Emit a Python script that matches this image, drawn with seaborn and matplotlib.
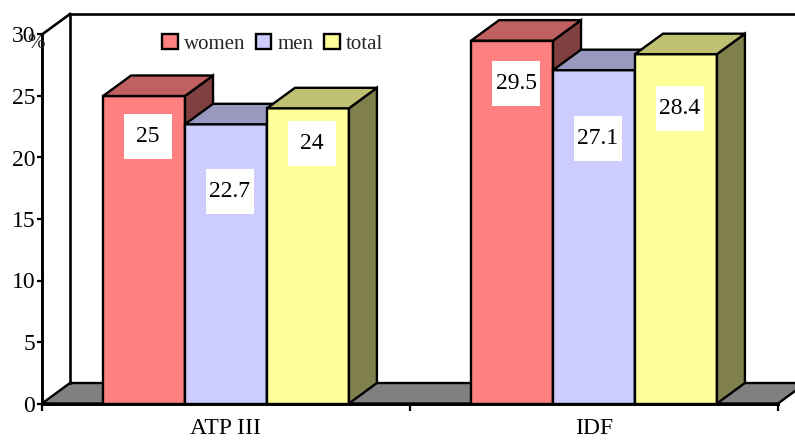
import numpy as np
import pandas as pd
import matplotlib
matplotlib.use("Agg")
import matplotlib.pyplot as plt
import matplotlib.transforms as mtransforms
from matplotlib.patches import Polygon, Rectangle, Patch
from matplotlib.lines import Line2D
import seaborn as sns

# Prevalence (%) by diagnostic criterion and group
criteria = ["ATP III", "IDF"]
groups = ["women", "men", "total"]
women = [25, 29.5]
men = [22.7, 27.1]
total = [24, 28.4]
y_ticks = [0, 5, 10, 15, 20, 25, 30]
y_tick_labels = ["0", "5", "10", "15", "20", "25", "30"]

front_colors = {"women": "#FF8080", "men": "#CCCCFF", "total": "#FFFF99"}
top_colors = {"women": "#C06060", "men": "#9999C0", "total": "#C0C073"}
side_colors = {"women": "#804040", "men": "#666680", "total": "#80804D"}

df = pd.DataFrame({
    "criterion": criteria * len(groups),
    "group": [g for g in groups for _ in criteria],
    "value": women + men + total,
})

sns.set_theme(style="white")
plt.rcParams["font.family"] = ["Liberation Serif", "DejaVu Serif"]

W, H = 795, 440
fig = plt.figure(figsize=(W / 100, H / 100), dpi=100)
fig.patch.set_facecolor("white")
# plot box in pixels measured from the top-left corner of the figure
left_px, right_px, bottom_px, top_px = 42, 778, 403.5, 34.5
ax = fig.add_axes([left_px / W, (H - bottom_px) / H,
                   (right_px - left_px) / W, (bottom_px - top_px) / H])
ax.set_facecolor("none")

LW = 1.7
sns.barplot(data=df, x="criterion", y="value", hue="group",
            order=criteria, hue_order=groups, palette=front_colors,
            saturation=1, width=0.668, edgecolor="black", linewidth=LW,
            legend=False, ax=ax)

ax.set_xlim(-0.5, 1.5)
ax.set_ylim(0, 30)

# pseudo-3D depth expressed in data units
px_x = (right_px - left_px) / 2.0
px_y = (bottom_px - top_px) / 30.0
dx = 28 / px_x
dy = 20.5 / px_y

edge = dict(edgecolor="black", linewidth=LW, joinstyle="miter", clip_on=False)

# floor
floor = Polygon([(-0.5, 0), (1.5, 0), (1.5 + dx, dy), (-0.5 + dx, dy)],
                closed=True, facecolor="#808080", zorder=2, **edge)
ax.add_patch(floor)

# walls: left top edge, back vertical edge, back top edge
line_kw = dict(color="black", linewidth=1.9, clip_on=False, zorder=2.5,
               solid_capstyle="projecting")
ax.add_line(Line2D([-0.5, -0.5 + dx], [30, 30 + dy], **line_kw))
ax.add_line(Line2D([-0.5 + dx, -0.5 + dx], [dy, 30 + dy], **line_kw))
ax.add_line(Line2D([-0.5 + dx, 1.6 + dx], [30 + dy, 30 + dy], **line_kw))

# top and side faces of each bar, plus value labels
label_drop_px = {"women": [41, 42.4], "men": [66.8, 67.9], "total": [35.6, 54.8]}
for h, (g, cont) in enumerate(zip(groups, ax.containers)):
    for i, bar in enumerate(cont):
        z = 3 + 0.1 * h
        bar.set_zorder(z)
        bar.set_joinstyle("miter")
        xl = bar.get_x()
        w = bar.get_width()
        v = bar.get_height()
        xr = xl + w
        topface = Polygon([(xl, v), (xr, v), (xr + dx, v + dy), (xl + dx, v + dy)],
                          closed=True, facecolor=top_colors[g], zorder=z + 0.01, **edge)
        sideface = Polygon([(xr, 0), (xr, v), (xr + dx, v + dy), (xr + dx, dy)],
                           closed=True, facecolor=side_colors[g], zorder=z + 0.01, **edge)
        ax.add_patch(sideface)
        ax.add_patch(topface)

        cx = xl + w / 2 + 4 / px_x
        cy = v - label_drop_px[g][i] / px_y
        trans = fig.dpi_scale_trans + mtransforms.ScaledTranslation(cx, cy, ax.transData)
        ax.add_patch(Rectangle((-0.24, -0.225), 0.48, 0.45, transform=trans,
                               facecolor="white", edgecolor="none", zorder=10,
                               clip_on=False))
        ax.text(cx, cy, f"{v:g}", ha="center", va="center", fontsize=17,
                color="black", zorder=11)

# axes styling
for s in ["top", "right"]:
    ax.spines[s].set_visible(False)
for s in ["left", "bottom"]:
    ax.spines[s].set_linewidth(2.1)
    ax.spines[s].set_color("black")
    ax.spines[s].set_zorder(6)

ax.set_yticks(y_ticks)
ax.set_yticklabels(y_tick_labels, fontsize=17)
ax.tick_params(axis="y", direction="out", length=3.5, width=1.6, pad=1.5,
               colors="black", left=True)

ax.set_xticks([-0.5, 0.5, 1.5])
ax.set_xticklabels([])
ax.set_xticks([0, 1], minor=True)
ax.set_xticklabels(criteria, minor=True, fontsize=17)
ax.tick_params(axis="x", which="major", direction="out", length=5, width=1.6,
               colors="black", bottom=True)
ax.tick_params(axis="x", which="minor", length=0, pad=10.5, colors="black")
ax.set_xlabel("")
ax.set_ylabel("")

fig.text(36 / W, 1 - 43 / H, "%", ha="center", va="center", fontsize=15)

handles = [Patch(facecolor=front_colors[g], edgecolor="black", linewidth=LW, label=g)
           for g in groups]
fig.legend(handles=handles, ncol=3, loc="center left",
           bbox_to_anchor=(162 / W, 1 - 44 / H), frameon=False, fontsize=15,
           handlelength=0.75, handleheight=0.75, handletextpad=0.3,
           columnspacing=0.5, borderpad=0, borderaxespad=0)

fig.savefig("out.png", dpi=100, facecolor="white")
